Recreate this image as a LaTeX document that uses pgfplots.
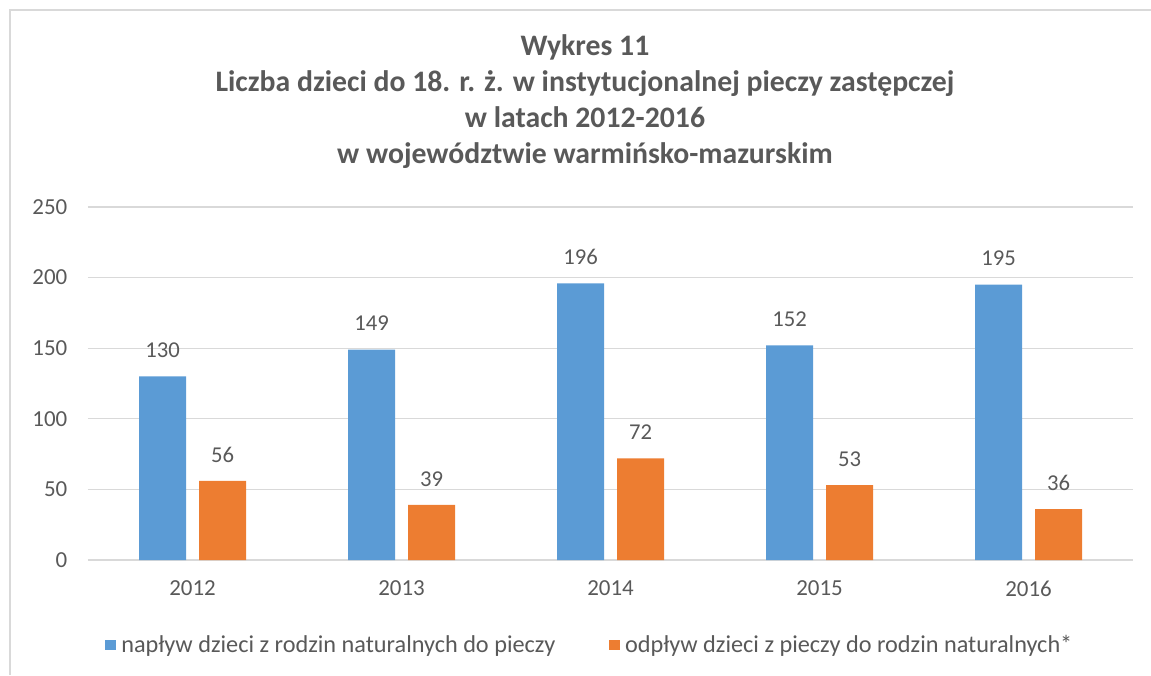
\documentclass[border=0pt]{standalone}
\usepackage{fontspec}
\setmainfont{Carlito}
\usepackage{pgfplots}
\pgfplotsset{compat=1.18}
\definecolor{cblue}{HTML}{5B9BD5}
\definecolor{corange}{HTML}{ED7D31}
\definecolor{ctext}{HTML}{595959}
\definecolor{cgrid}{HTML}{D9D9D9}
\begin{document}
\begin{tikzpicture}[x=0.75pt,y=0.75pt]
% picture frame: 1151 x 675 px, plot area lower-left at (88,560)
\useasboundingbox (-88,-115) rectangle (1063,560);
\draw[cgrid,line width=1.2pt] (-78,-115) -- (-78,550) -- (1063,550);
\begin{axis}[
  at={(0,0)}, anchor=south west,
  scale only axis,
  width=783.75pt, height=264.75pt,
  xmin=-0.5, xmax=4.5,
  ymin=0, ymax=250,
  ytick={0,50,...,250},
  xtick=data,
  xticklabels={2012,2013,2014,2015,2016},
  axis line style={draw=none},
  major tick style={draw=none},
  ymajorgrids=true,
  grid style={cgrid,line width=0.9pt},
  /pgf/number format/assume math mode=true,
  ticklabel style={font=\fontsize{17.2}{19}\selectfont,text=ctext},
  xticklabel style={yshift=-8pt},
  yticklabel style={xshift=-12pt},
  ybar, bar width=35.25pt,
  legend columns=-1,
  legend style={draw=none, at={(0.4804,-0.2408)}, anchor=center,
    font=\fontsize{18.2}{20}\selectfont, text=ctext,
    /tikz/every even column/.append style={column sep=38pt},
    /tikz/every odd column/.append style={column sep=2pt}},
  legend image code/.code={\fill[#1] (0pt,-4.1pt) rectangle (8.25pt,4.1pt);},
  nodes near coords,
  every node near coord/.append style={font=\fontsize{17}{19}\selectfont,text=ctext,yshift=10.5pt},
]
\addplot[fill=cblue,draw=none,bar shift=-22.5pt] coordinates {(0,130) (1,149) (2,196) (3,152) (4,195)};
\addplot[fill=corange,draw=none,bar shift=22.5pt] coordinates {(0,56) (1,39) (2,72) (3,53) (4,36)};
\legend{napływ dzieci z rodzin naturalnych do pieczy,odpływ dzieci z pieczy do rodzin naturalnych*}
\end{axis}
\node[align=center,text=ctext,font=\fontsize{22.3}{27}\selectfont\bfseries] at (497,458.5)
  {Wykres 11\\Liczba dzieci do 18. r. ż. w instytucjonalnej pieczy zastępczej\\w latach 2012-2016\\w województwie warmińsko-mazurskim};
\end{tikzpicture}
\end{document}
